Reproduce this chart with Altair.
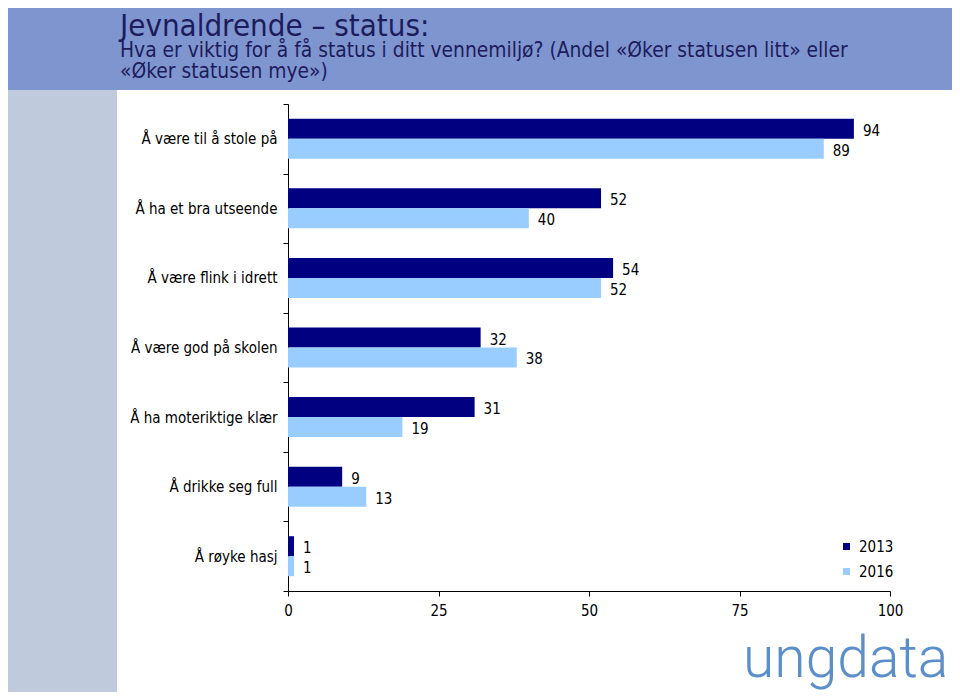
import altair as alt
import pandas as pd

categories = [
    "Å være til å stole på",
    "Å ha et bra utseende",
    "Å være flink i idrett",
    "Å være god på skolen",
    "Å ha moteriktige klær",
    "Å drikke seg full",
    "Å røyke hasj",
]
years = ["2013", "2016"]
values_2013 = [94, 52, 54, 32, 31, 9, 1]
values_2016 = [89, 40, 52, 38, 19, 13, 1]
x_ticks = [0, 25, 50, 75, 100]
colors = ["#000080", "#99CCFF"]

title_text = "Jevnaldrende – status:"
subtitle_lines = [
    "Hva er viktig for å få status i ditt vennemiljø? (Andel «Øker statusen litt» eller",
    "«Øker statusen mye»)",
]
logo_text = "ungdata"

FONT = "DejaVu Sans Condensed, DejaVu Sans"

rows = []
for c, v13, v16 in zip(categories, values_2013, values_2016):
    rows.append({"cat": c, "year": "2013", "value": v13})
    rows.append({"cat": c, "year": "2016", "value": v16})
df = pd.DataFrame(rows)

W, H = 602, 487
PL, PT = 280, 96
TOTAL_W, TOTAL_H = 944, 684

one = pd.DataFrame({"k": [0]})

header = alt.Chart(one).mark_rect(color="#7F95D0", clip=False).encode(
    x=alt.value(-PL), x2=alt.value(TOTAL_W - PL),
    y=alt.value(-PT), y2=alt.value(-14),
)
strip = alt.Chart(one).mark_rect(color="#BFCADD", clip=False).encode(
    x=alt.value(-PL), x2=alt.value(-171),
    y=alt.value(-14), y2=alt.value(TOTAL_H - PT),
)
title = alt.Chart(one).mark_text(
    text=title_text, font=FONT, fontSize=31, color="#1C1C5C",
    align="left", baseline="alphabetic",
).encode(x=alt.value(-168), y=alt.value(-68))
sub = alt.Chart(one).mark_text(
    text=subtitle_lines, font=FONT, fontSize=20.8, lineHeight=21, color="#1C1C5C",
    align="left", baseline="alphabetic",
).encode(x=alt.value(-168), y=alt.value(-47))
logo = alt.Chart(one).mark_text(
    text=logo_text, font="Roboto", fontWeight=300, fontSize=57, color="#5B8FCB",
    align="left", baseline="alphabetic",
).encode(x=alt.value(455), y=alt.value(573))

y_enc = alt.Y(
    "cat:N", sort=categories, title=None,
    scale=alt.Scale(domain=categories, paddingInner=0, paddingOuter=0),
    axis=alt.Axis(
        tickBand="extent", tickSize=5, tickColor="#000000", domainColor="#000000",
        labelFont=FONT, labelFontSize=15, labelColor="#000000", labelPadding=6,
        labelLimit=300,
    ),
)
yoff = alt.YOffset("year:N", sort=years, scale=alt.Scale(paddingInner=0, paddingOuter=0.74))
x_enc = alt.X(
    "value:Q", title=None,
    scale=alt.Scale(domain=[0, 100], nice=False),
    axis=alt.Axis(
        values=x_ticks, tickSize=5, tickColor="#000000", domainColor="#000000",
        labelFont=FONT, labelFontSize=15, labelColor="#000000", labelPadding=7,
        grid=False, labelFlush=False,
    ),
)

bars = alt.Chart(df).mark_bar().encode(
    y=y_enc, yOffset=yoff, x=x_enc,
    color=alt.Color(
        "year:N", sort=years, title=None,
        scale=alt.Scale(domain=years, range=colors),
        legend=alt.Legend(
            orient="none", legendX=551, legendY=435, symbolType="square",
            symbolSize=49, labelFont=FONT, labelFontSize=15, labelColor="#000000",
            rowPadding=9, symbolStrokeWidth=0, labelOffset=5,
        ),
    ),
)
labels = alt.Chart(df).mark_text(
    align="left", dx=9, dy=2, font=FONT, fontSize=15, color="#000000",
).encode(
    y=alt.Y("cat:N", sort=categories), yOffset=alt.YOffset("year:N", sort=years),
    x="value:Q", text="value:Q",
)

chart = alt.layer(header, strip, title, sub, logo, bars, labels).properties(
    width=W, height=H,
    autosize=alt.AutoSizeParams(type="none"),
    padding={"left": PL, "top": PT, "right": TOTAL_W - PL - W, "bottom": TOTAL_H - PT - H},
    background="#FFFFFF",
).configure_view(stroke=None)

chart.save("out.html", embed_options={"renderer": "svg", "actions": False})
